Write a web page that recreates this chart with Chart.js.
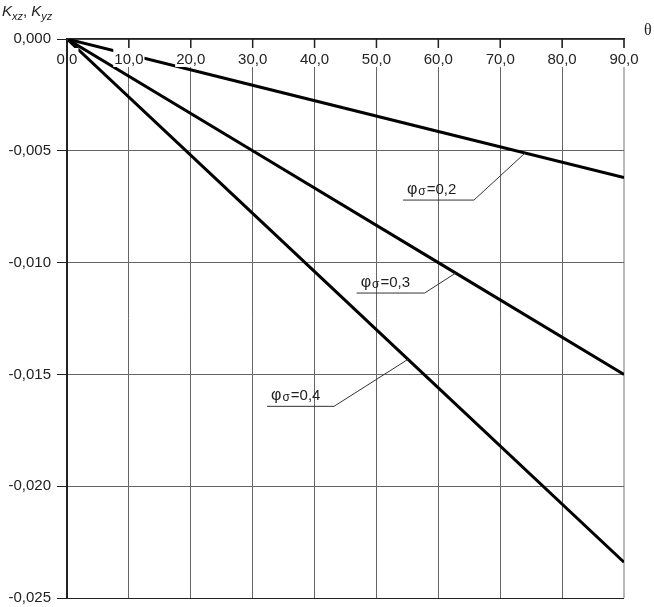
<!DOCTYPE html>
<html>
<head>
<meta charset="utf-8">
<script src="https://cdn.jsdelivr.net/npm/chart.js@4.4.1/dist/chart.umd.min.js"></script>
<style>
    html, body { margin: 0; padding: 0; background: #fff; }
    #wrap { width: 654px; height: 607px; }
</style>
</head>
<body>
<div id="wrap"><canvas id="kChart"></canvas></div>
<script>
// angle theta, degrees
const thetas = [0, 30, 60, 90];
// K values, one array per phi_sigma
const k02 = [0, -0.00207, -0.00414, -0.0062];
const k03 = [0, -0.0050, -0.0100, -0.0150];
const k04 = [0, -0.0078, -0.0156, -0.0234];
const phiLabels = ['0,2', '0,3', '0,4'];
const xTicks = [0, 10, 20, 30, 40, 50, 60, 70, 80, 90];
const yTicks = [-0.025, -0.020, -0.015, -0.010, -0.005, 0];

// where the leader of each label touches its line (theta)
const leaderAt = [74, 62.8, 55.1];
// leader shape: [dx, dy, underline length] in px
const leaderShape = [[51, 47, 71], [31, 20, 68], [74, 47, 67]];

const FONT = "'Liberation Sans', Arial, sans-serif";
const comma = (v, d) => v.toFixed(d).replace('.', ',').replace('-0,000', '0,000');

const series = [k02, k03, k04];

function valueAt(arr, t) {
    for (let i = 1; i < thetas.length; i++) {
        if (t <= thetas[i]) {
            const f = (t - thetas[i - 1]) / (thetas[i] - thetas[i - 1]);
            return arr[i - 1] + f * (arr[i] - arr[i - 1]);
        }
    }
    return arr[arr.length - 1];
}

const overlay = {
    id: 'overlay',
    afterDatasetsDraw(chart) {
        const { ctx, chartArea: a, scales: { x, y } } = chart;
        ctx.save();

        // x tick labels sit inside the plot, under the top axis
        ctx.font = '15px ' + FONT;
        ctx.textAlign = 'center';
        ctx.textBaseline = 'middle';
        xTicks.forEach(t => {
            const px = x.getPixelForValue(t);
            const txt = comma(t, 1);
            const w = ctx.measureText(txt).width;
            ctx.fillStyle = '#fff';
            ctx.fillRect(px - w / 2 - 1, a.top + 9, w + 2, 19);
            ctx.fillStyle = '#222';
            ctx.fillText(txt, px, a.top + 21);
            ctx.strokeStyle = '#222';
            ctx.lineWidth = 1.5;
            ctx.beginPath();
            ctx.moveTo(px, a.top);
            ctx.lineTo(px, a.top + 9);
            ctx.stroke();
        });

        // left axis again, over the labels
        ctx.strokeStyle = '#222';
        ctx.lineWidth = 2;
        ctx.beginPath();
        ctx.moveTo(a.left, a.top);
        ctx.lineTo(a.left, a.bottom);
        ctx.stroke();

        // phi labels with leaders
        series.forEach((arr, i) => {
            const t = leaderAt[i];
            const ax = x.getPixelForValue(t);
            const ay = y.getPixelForValue(valueAt(arr, t));
            const [dx, dy, len] = leaderShape[i];
            const ex = ax - dx, ey = ay + dy;
            ctx.strokeStyle = '#333';
            ctx.lineWidth = 1;
            ctx.beginPath();
            ctx.moveTo(ax, ay);
            ctx.lineTo(ex, ey);
            ctx.lineTo(ex - len, ey);
            ctx.stroke();

            let tx = ex - len + 4;
            const by = ey - 6;
            ctx.fillStyle = '#222';
            ctx.textAlign = 'left';
            ctx.textBaseline = 'alphabetic';
            ctx.font = '16px ' + FONT;
            ctx.fillText('φ', tx, by);
            tx += ctx.measureText('φ').width + 1;
            ctx.font = '12px ' + FONT;
            ctx.fillText('σ', tx, by + 1);
            tx += ctx.measureText('σ').width + 1;
            ctx.font = '15px ' + FONT;
            ctx.fillText('=' + phiLabels[i], tx, by);
        });

        // axis titles
        ctx.textAlign = 'left';
        ctx.textBaseline = 'alphabetic';
        let tx = 2;
        const parts = [['K', 15, 16], ['xz', 11, 20], [', ', 15, 16], ['K', 15, 16], ['yz', 11, 20]];
        parts.forEach(([s, size, base]) => {
            ctx.font = (s.trim() === ',' ? '' : 'italic ') + size + 'px ' + FONT;
            ctx.fillText(s, tx, base);
            tx += ctx.measureText(s).width;
        });
        ctx.font = "16px 'Liberation Serif', serif";
        ctx.fillText('θ', 644, 35);

        ctx.restore();
    }
};

new Chart(document.getElementById('kChart').getContext('2d'), {
    type: 'line',
    data: {
        datasets: series.map((arr, i) => ({
            label: phiLabels[i],
            data: thetas.map((t, j) => ({ x: t, y: arr[j] })),
            borderColor: '#000',
            borderWidth: 3,
            pointRadius: 0,
            tension: 0,
            fill: false,
        }))
    },
    options: {
        responsive: true,
        maintainAspectRatio: false,
        animation: false,
        layout: { padding: { top: 0, right: 30, bottom: 9, left: 0 } },
        plugins: {
            legend: { display: false },
            tooltip: { enabled: false },
        },
        scales: {
            x: {
                type: 'linear',
                position: 'top',
                min: 0,
                max: 90,
                afterBuildTicks: s => { s.ticks = xTicks.map(v => ({ value: v })); },
                afterFit: s => { s.height = 39; s.paddingLeft = 0; s.paddingRight = 0; },
                ticks: { display: false },
                grid: {
                    drawTicks: false,
                    color: c => c.tick && c.tick.value === 90 ? '#bbb' : '#666',
                    lineWidth: c => c.tick && c.tick.value === 90 ? 2 : 1,
                },
                border: { display: true, color: '#222', width: 1.5 },
            },
            y: {
                type: 'linear',
                min: -0.025,
                max: 0,
                afterBuildTicks: s => { s.ticks = yTicks.map(v => ({ value: v })); },
                afterFit: s => { s.width = 67; s.paddingTop = 0; s.paddingBottom = 0; },
                ticks: {
                    color: '#222',
                    padding: 6,
                    font: { family: FONT, size: 15 },
                    callback: v => comma(v, 3),
                },
                grid: {
                    tickLength: 10,
                    tickColor: '#222',
                    color: c => c.tick && c.tick.value === -0.025 ? '#222' : '#666',
                },
                border: { display: true, color: '#222', width: 2 },
            }
        }
    },
    plugins: [overlay]
});
</script>
</body>
</html>
